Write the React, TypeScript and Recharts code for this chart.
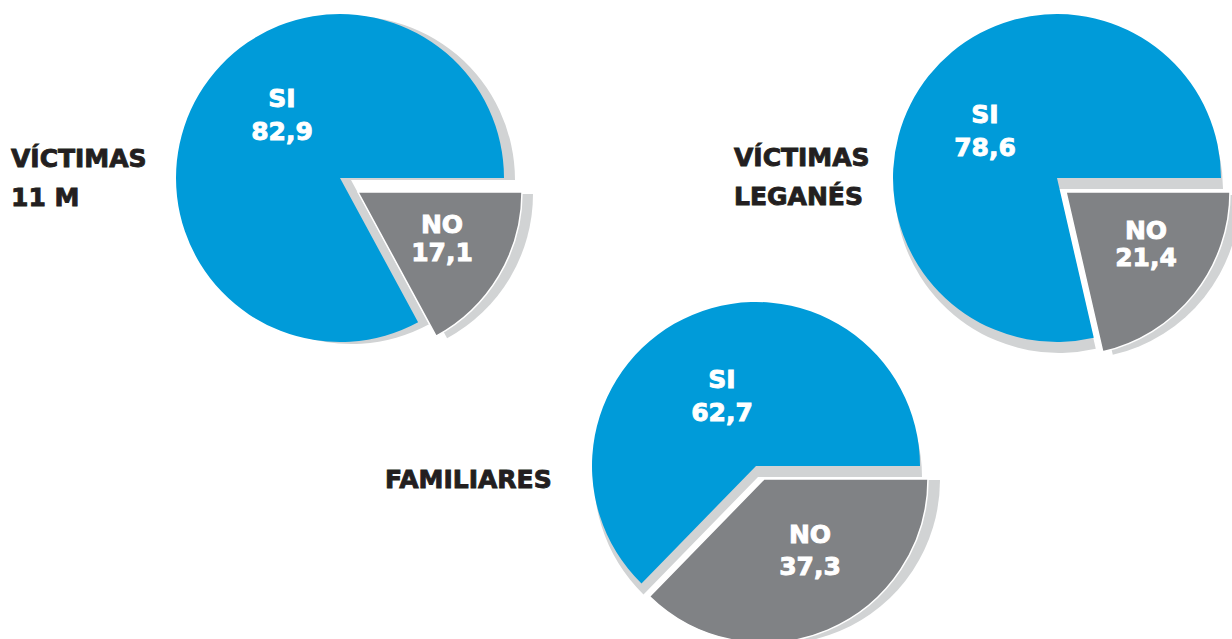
import { Cell, Pie, PieChart } from "recharts";

const categories = ["SI", "NO"];
const victimas11M = [82.9, 17.1];
const victimasLeganes = [78.6, 21.4];
const familiares = [62.7, 37.3];

const BLUE = "#009bd9";
const GREY = "#808285";
const SHADOW = "#d1d3d4";
const INK = "#231f20";
const FONT = "'DejaVu Sans', Verdana, sans-serif";

const RADIUS = 164;

type ChartLayout = {
  key: string;
  values: number[];
  cx: number;
  cy: number;
  explode: [number, number];
  shadowSi: [number, number];
  shadowNo: [number, number];
  siLabel: [number, number, number];
  noLabel: [number, number, number];
  title: string[];
  titleX: number;
  titleY: number[];
};

const charts: ChartLayout[] = [
  {
    key: "v11m",
    values: victimas11M,
    cx: 340,
    cy: 178,
    explode: [18, 14],
    shadowSi: [11, 2],
    shadowNo: [11, 2],
    siLabel: [-58, -71, -38],
    noLabel: [84, 41, 69],
    title: ["VÍCTIMAS", "11 M"],
    titleX: 11,
    titleY: [167, 206],
  },
  {
    key: "vleg",
    values: victimasLeganes,
    cx: 1057,
    cy: 178,
    explode: [9, 14],
    shadowSi: [2, 11],
    shadowNo: [10, 3],
    siLabel: [-72, -55, -22],
    noLabel: [80, 47, 74],
    title: ["VÍCTIMAS", "LEGANÉS"],
    titleX: 734,
    titleY: [166, 205],
  },
  {
    key: "fam",
    values: familiares,
    cx: 756,
    cy: 466,
    explode: [8, 13],
    shadowSi: [2, 11],
    shadowNo: [12, 1],
    siLabel: [-34, -78, -45],
    noLabel: [46, 64, 96],
    title: ["FAMILIARES"],
    titleX: 385,
    titleY: [488],
  },
];

const fmt = (v: number) => v.toFixed(1).replace(".", ",");

const textStyle = (color: string) => ({
  fill: color,
  stroke: color,
  strokeWidth: 0.9,
  fontFamily: FONT,
  fontWeight: "bold" as const,
  fontSize: 25,
});

const makeLabel =
  (which: number, offs: [number, number, number]) =>
  (props: any) => {
    if (props.index !== which) return null;
    const x = props.cx + offs[0];
    return (
      <g key={`lbl-${which}-${props.cx}`}>
        <text x={x} y={props.cy + offs[1]} textAnchor="middle" {...textStyle("#fff")}>
          {props.payload.name}
        </text>
        <text x={x} y={props.cy + offs[2]} textAnchor="middle" {...textStyle("#fff")}>
          {fmt(props.payload.value)}
        </text>
      </g>
    );
  };

export default function App() {
  return (
    <div style={{ position: "absolute", left: 0, top: 0, width: 1232, height: 639, background: "#fff", overflow: "hidden" }}>
      <PieChart width={1232} height={639} margin={{ top: 0, right: 0, bottom: 0, left: 0 }}>
        {charts.flatMap((c) => {
          const data = categories.map((name, i) => ({ name, value: c.values[i] }));
          const nx = c.cx + c.explode[0];
          const ny = c.cy + c.explode[1];
          const common = {
            data,
            dataKey: "value",
            nameKey: "name",
            startAngle: 0,
            endAngle: 360,
            outerRadius: RADIUS,
            innerRadius: 0,
            isAnimationActive: false,
            labelLine: false,
          };
          return [
            <Pie key={`${c.key}-ssi`} {...common} cx={c.cx + c.shadowSi[0]} cy={c.cy + c.shadowSi[1]}>
              <Cell fill={SHADOW} stroke="none" />
              <Cell fill="transparent" stroke="none" />
            </Pie>,
            <Pie key={`${c.key}-sno`} {...common} cx={nx + c.shadowNo[0]} cy={ny + c.shadowNo[1]}>
              <Cell fill="transparent" stroke="none" />
              <Cell fill={SHADOW} stroke="none" />
            </Pie>,
            <Pie key={`${c.key}-si`} {...common} cx={c.cx} cy={c.cy} label={makeLabel(0, c.siLabel)}>
              <Cell fill={BLUE} stroke="none" />
              <Cell fill="transparent" stroke="none" />
            </Pie>,
            <Pie key={`${c.key}-no`} {...common} cx={nx} cy={ny} label={makeLabel(1, c.noLabel)}>
              <Cell fill="transparent" stroke="none" />
              <Cell fill={GREY} stroke="#fff" strokeWidth={1.5} />
            </Pie>,
          ];
        })}
      </PieChart>
      <svg width={1232} height={639} style={{ position: "absolute", left: 0, top: 0, pointerEvents: "none" }}>
        {charts.map((c) =>
          c.title.map((line, i) => (
            <text key={`${c.key}-t${i}`} x={c.titleX} y={c.titleY[i]} {...textStyle(INK)}>
              {line}
            </text>
          )),
        )}
      </svg>
    </div>
  );
}
